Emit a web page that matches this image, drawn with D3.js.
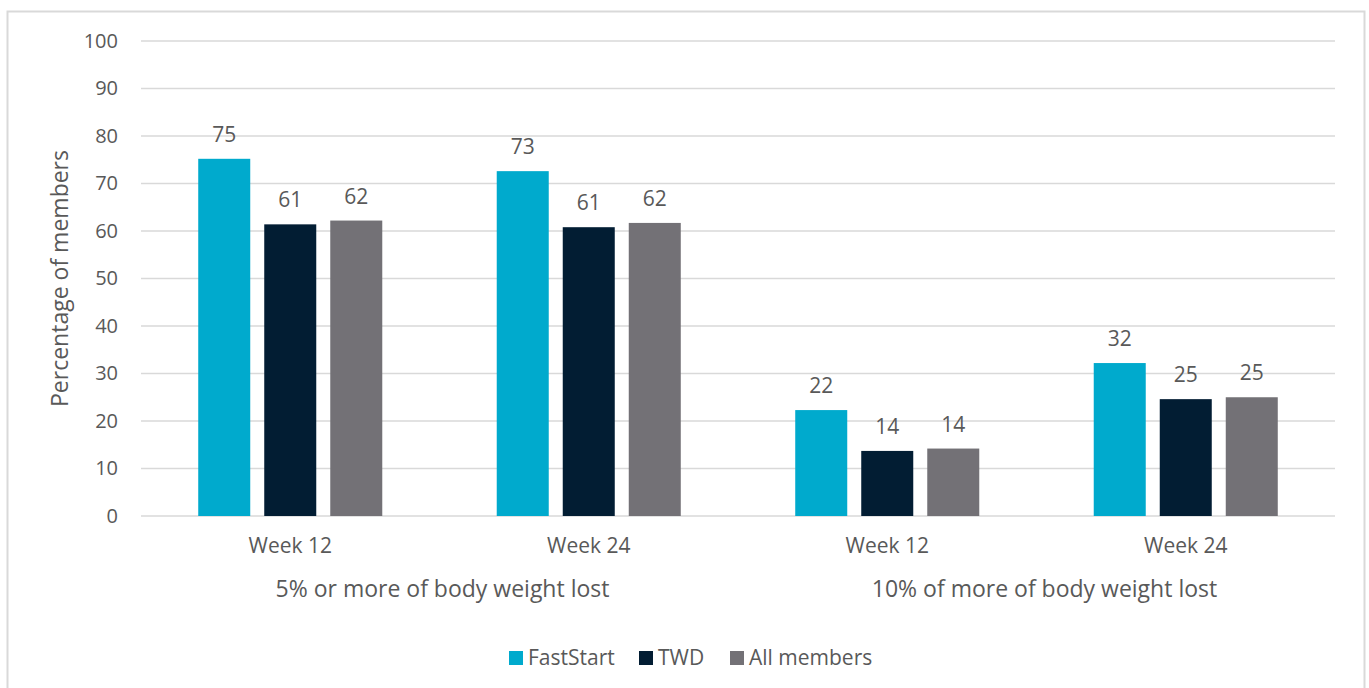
<!DOCTYPE html>
<html><head><meta charset="utf-8">
<script src="https://cdn.jsdelivr.net/npm/d3@7"></script>
<style>
html,body{margin:0;padding:0;background:#fff;}
text{font-family:"Open Sans","Segoe UI",sans-serif;fill:#595959;}
</style></head>
<body><svg id="chart" width="1369" height="688"></svg>
<script>
const categories = ["Week 12","Week 24","Week 12","Week 24"];
const groups = ["5% or more of body weight lost","10% of more of body weight lost"];
const seriesNames = ["FastStart","TWD","All members"];
const fastStart = [75.2, 72.6, 22.3, 32.2];
const twd = [61.4, 60.8, 13.7, 24.6];
const allMembers = [62.2, 61.7, 14.2, 25.0];
const yTicks = [0,10,20,30,40,50,60,70,80,90,100];
const colors = ["#00aacd","#021d33","#737176"];

const series = [fastStart, twd, allMembers];
const svg = d3.select("#chart");
const W = 1369, H = 688;
const m = {left:141, right:34, top:41, bottom:172};
const plotW = W - m.left - m.right, plotH = H - m.top - m.bottom;

svg.append("rect").attr("x",7.5).attr("y",11.5).attr("width",1357).attr("height",700)
  .attr("fill","none").attr("stroke","#d9d9d9").attr("stroke-width",2);

const g = svg.append("g").attr("transform",`translate(${m.left},${m.top})`);
const y = d3.scaleLinear().domain([0,100]).range([plotH,0]);
const x0 = d3.scaleBand().domain(d3.range(categories.length)).range([0,plotW]).paddingInner(0).paddingOuter(0);
const x1 = d3.scaleBand().domain(d3.range(seriesNames.length)).range([0,x0.bandwidth()]).paddingInner(14/66).paddingOuter(0.867);

// gridlines
g.append("g").selectAll("line").data(yTicks).join("line")
  .attr("x1",0).attr("x2",plotW).attr("y1",d=>y(d)).attr("y2",d=>y(d))
  .attr("stroke","#d9d9d9").attr("stroke-width",1.5);

// y axis labels
const yAxis = d3.axisLeft(y).tickValues(yTicks).tickSize(0).tickPadding(23);
const ya = g.append("g").call(yAxis);
ya.select(".domain").remove();
ya.selectAll("text").style("font-size","20px").attr("fill","#595959").style("font-family","'Open Sans',sans-serif");

// bars
const cat = g.selectAll("g.cat").data(categories.map((c,i)=>i)).join("g").attr("class","cat")
  .attr("transform",i=>`translate(${x0(i)},0)`);
cat.selectAll("rect").data(i=>series.map((s,k)=>({k, v:s[i]}))).join("rect")
  .attr("x",d=>x1(d.k)).attr("width",x1.bandwidth())
  .attr("y",d=>y(d.v)).attr("height",d=>plotH - y(d.v))
  .attr("fill",d=>colors[d.k]);
cat.selectAll("text").data(i=>series.map((s,k)=>({k, v:s[i]}))).join("text")
  .attr("x",d=>x1(d.k)+x1.bandwidth()/2).attr("y",d=>y(d.v)-17)
  .attr("text-anchor","middle").style("font-size","21px").attr("fill","#404040")
  .text(d=>d3.format(".0f")(d.v));

// x axis category labels
const xAxis = d3.axisBottom(x0).tickFormat(i=>categories[i]).tickSize(0).tickPadding(22);
const xa = g.append("g").attr("transform",`translate(0,${plotH})`).call(xAxis);
xa.select(".domain").remove();
xa.selectAll("text").style("font-size","21px").attr("fill","#595959").style("font-family","'Open Sans',sans-serif");

// group labels
g.selectAll("text.grp").data(groups).join("text").attr("class","grp")
  .attr("x",(d,i)=>(x0(i*2)+x0(i*2+1)+x0.bandwidth())/2 + (i===1?8:3))
  .attr("y",plotH+81).attr("text-anchor","middle").style("font-size","23px").text(d=>d);

// y title
svg.append("text").attr("transform",`translate(68,${m.top+plotH/2}) rotate(-90)`)
  .attr("text-anchor","middle").style("font-size","23px").text("Percentage of members");

// legend
const legX = [509, 639, 730];
const leg = svg.append("g").selectAll("g").data(seriesNames).join("g")
  .attr("transform",(d,i)=>`translate(${legX[i]},651)`);
leg.append("rect").attr("width",14).attr("height",14).attr("fill",(d,i)=>colors[i]);
leg.append("text").attr("x",19).attr("y",14).style("font-size","21px").text(d=>d);
</script></body></html>
